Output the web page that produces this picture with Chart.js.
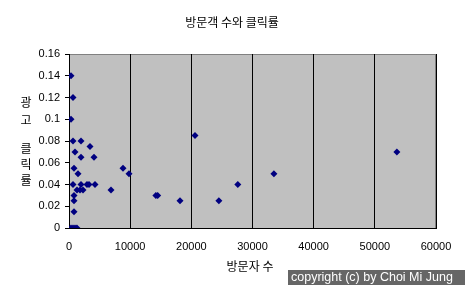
<!DOCTYPE html>
<html>
<head>
<meta charset="utf-8">
<style>
html,body{margin:0;padding:0;background:#fff;}
#wrap{width:465px;height:291px;position:relative;}
</style>
<script src="https://cdn.jsdelivr.net/npm/chart.js@4"></script>
</head>
<body>
<div id="wrap"><canvas id="c" width="465" height="291"></canvas></div>
<script>
const chartTitle = "방문객 수와 클릭률";
const xTitle = "방문자 수";
const yTitleChars = ["광", "고", "클", "릭", "률"];
const copyrightText = "copyright (c) by Choi Mi Jung";

const visitors = [330, 650, 330, 650, 1960, 3430, 980, 1960, 4090, 820, 1470, 8830, 9810,
  650, 1960, 2940, 3270, 4250, 1310, 1800, 2290, 6870, 820, 14200, 14500, 18150, 20600,
  24500, 27600, 33500, 53600, 820, 820, 330, 650, 980, 1300];
const clickRates = [0.14, 0.12, 0.10, 0.08, 0.08, 0.075, 0.07, 0.065, 0.065, 0.055, 0.05, 0.055, 0.05,
  0.04, 0.04, 0.04, 0.04, 0.04, 0.035, 0.035, 0.035, 0.035, 0.03, 0.03, 0.03, 0.025, 0.085,
  0.025, 0.04, 0.05, 0.07, 0.025, 0.015, 0, 0, 0, 0];
const xTicks = [0, 10000, 20000, 30000, 40000, 50000, 60000];
const yTicks = [0, 0.02, 0.04, 0.06, 0.08, 0.1, 0.12, 0.14, 0.16];

const points = visitors.map((v, i) => ({x: v, y: clickRates[i]}));
const FONT = "'Liberation Sans', 'Noto Sans CJK KR', sans-serif";
const KFONT = "'Noto Sans CJK KR', sans-serif";
const yTitleRows = [102, 120, 148, 164, 180];

const decor = {
  id: 'decor',
  beforeDraw(chart) {
    const {ctx, chartArea: a} = chart;
    ctx.save();
    ctx.fillStyle = '#c0c0c0';
    ctx.fillRect(a.left, a.top, a.right - a.left, a.bottom - a.top);
    ctx.strokeStyle = '#808080';
    ctx.lineWidth = 1;
    ctx.strokeRect(a.left + 0.5, a.top + 0.5, a.right - a.left - 1, a.bottom - a.top);
    ctx.restore();
  },
  afterDraw(chart) {
    const {ctx} = chart;
    ctx.save();
    ctx.fillStyle = '#000';
    ctx.textAlign = 'center';
    ctx.textBaseline = 'middle';
    ctx.font = "12px " + KFONT;
    ctx.fillText(chartTitle, 232, 22);
    ctx.fillText(xTitle, 250, 266);
    yTitleChars.forEach((ch, i) => ctx.fillText(ch, 26, yTitleRows[i]));
    ctx.fillStyle = '#666666';
    ctx.fillRect(288, 270, 177, 15);
    ctx.fillStyle = '#fff';
    ctx.textAlign = 'left';
    ctx.font = "12.5px " + FONT;
    ctx.fillText(copyrightText, 291, 278);
    ctx.restore();
  }
};

new Chart(document.getElementById('c'), {
  type: 'scatter',
  data: {
    datasets: [{
      data: points,
      pointStyle: 'rectRot',
      pointRadius: 3.5,
      pointHoverRadius: 3.5,
      backgroundColor: '#000080',
      borderColor: '#000080',
      borderWidth: 0
    }]
  },
  options: {
    responsive: false,
    animation: false,
    events: [],
    layout: {padding: {left: 0, right: 29, top: 54, bottom: 0}},
    plugins: {legend: {display: false}, title: {display: false}, tooltip: {enabled: false}},
    scales: {
      x: {
        type: 'linear',
        min: 0, max: 60000,
        afterBuildTicks(s) { s.ticks = xTicks.map(v => ({value: v})); },
        afterFit(s) { s.height = 63; },
        ticks: {color: '#000', font: {size: 11, family: FONT}, padding: 12, maxRotation: 0,
                callback: v => String(v)},
        grid: {color: '#000', lineWidth: 1, drawTicks: false, tickLength: 6},
        border: {display: true, color: '#000', width: 1}
      },
      y: {
        type: 'linear',
        min: 0, max: 0.16,
        afterBuildTicks(s) { s.ticks = yTicks.map(v => ({value: v})); },
        afterFit(s) { s.width = 69; },
        ticks: {color: '#000', font: {size: 11, family: FONT}, padding: 5,
                callback: v => String(Math.round(v * 100) / 100)},
        grid: {drawOnChartArea: false, drawTicks: true, tickLength: 4, color: '#000'},
        border: {display: true, color: '#000', width: 1}
      }
    }
  },
  plugins: [decor]
});
</script>
</body>
</html>
